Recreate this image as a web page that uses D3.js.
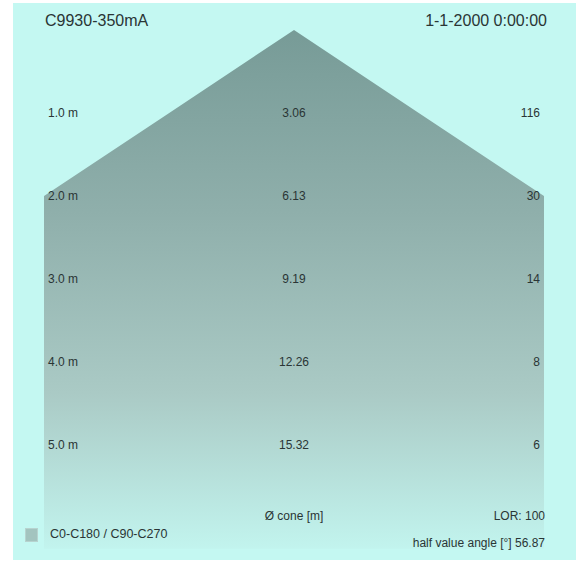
<!DOCTYPE html>
<html>
<head>
<meta charset="utf-8">
<script src="https://cdn.jsdelivr.net/npm/d3@7"></script>
<style>
  body { margin: 0; background: #fff; }
  text { font-family: "Liberation Sans", Arial, sans-serif; fill: #2a3535; }
</style>
</head>
<body>
<div class="canvas"></div>
<script>
// what to show
var title = 'C9930-350mA',
    dateLabel = '1-1-2000 0:00:00';

var distances = [1.0, 2.0, 3.0, 4.0, 5.0],          // m
    diameters = [3.06, 6.13, 9.19, 12.26, 15.32],   // cone diameter, m
    illuminance = [116, 30, 14, 8, 6];              // lux

var halfAngle = 56.87,
    lor = 100,
    legendLabel = 'C0-C180 / C90-C270';

// where does it live
var width = 584,
    height = 562;

var svg = d3.select('.canvas').append('svg')
    .attr('width', width)
    .attr('height', height);

// half the chart width holds the cone up to 2.0 m
var maxHalf = diameters[1] / 2,
    maxDist = 6.25;

var x = d3.scaleLinear().domain([-maxHalf, maxHalf]).range([44, 544]),
    y = d3.scaleLinear().domain([0, maxDist]).range([30, 30 + 83 * maxDist]);

// backdrop
svg.append('rect')
    .attr('x', 13).attr('y', 3)
    .attr('width', 563).attr('height', 557)
    .attr('fill', '#c4f8f2');

var defs = svg.append('defs');
var grad = defs.append('linearGradient')
    .attr('id', 'cone')
    .attr('x1', 0).attr('y1', 0).attr('x2', 0).attr('y2', 1);
grad.append('stop').attr('offset', '0%').attr('stop-color', '#779b97');
grad.append('stop').attr('offset', '35%').attr('stop-color', '#8fafab');
grad.append('stop').attr('offset', '70%').attr('stop-color', '#aacac5');
grad.append('stop').attr('offset', '100%').attr('stop-color', '#c2f4ee');

// the cone outline, clipped at the chart width
var pts = [[0, 0]];
distances.forEach(function (d, i) {
    pts.push([Math.min(diameters[i] / 2, maxHalf), d]);
});
pts.push([maxHalf, maxDist]);
var right = pts.map(function (p) { return [x(p[0]), y(p[1])]; }),
    left = pts.slice().reverse().map(function (p) { return [x(-p[0]), y(p[1])]; });

svg.append('path')
    .attr('d', d3.line()(right.concat(left)) + 'Z')
    .attr('fill', 'url(#cone)');

// row labels
var rows = svg.append('g').attr('font-size', 12);

rows.selectAll('.dist')
    .data(distances)
    .enter()
    .append('text')
    .attr('x', 48)
    .attr('y', function (d) { return y(d); })
    .attr('dy', '0.35em')
    .text(function (d) { return d.toFixed(1) + ' m'; });

rows.selectAll('.diam')
    .data(diameters)
    .enter()
    .append('text')
    .attr('x', 294)
    .attr('y', function (d, i) { return y(distances[i]); })
    .attr('dy', '0.35em')
    .attr('text-anchor', 'middle')
    .text(function (d) { return d.toFixed(2); });

rows.selectAll('.lux')
    .data(illuminance)
    .enter()
    .append('text')
    .attr('x', 540)
    .attr('y', function (d, i) { return y(distances[i]); })
    .attr('dy', '0.35em')
    .attr('text-anchor', 'end')
    .text(function (d) { return d; });

// header
svg.append('text').attr('x', 45).attr('y', 26).attr('font-size', 16).text(title);
svg.append('text').attr('x', 547).attr('y', 26).attr('font-size', 16)
    .attr('text-anchor', 'end').text(dateLabel);

// footer
svg.append('text').attr('x', 294).attr('y', 520).attr('font-size', 12)
    .attr('text-anchor', 'middle').text('Ø cone [m]');
svg.append('text').attr('x', 545).attr('y', 520).attr('font-size', 12)
    .attr('text-anchor', 'end').text('LOR: ' + lor);
svg.append('text').attr('x', 545).attr('y', 547).attr('font-size', 12)
    .attr('text-anchor', 'end').text('half value angle [°] ' + halfAngle.toFixed(2));

svg.append('rect')
    .attr('x', 25.5).attr('y', 528.5)
    .attr('width', 12).attr('height', 13)
    .attr('fill', '#a3c4bf')
    .attr('stroke', '#b7d3cf');
svg.append('text').attr('x', 50).attr('y', 538).attr('font-size', 12.5).text(legendLabel);
</script>
</body>
</html>
